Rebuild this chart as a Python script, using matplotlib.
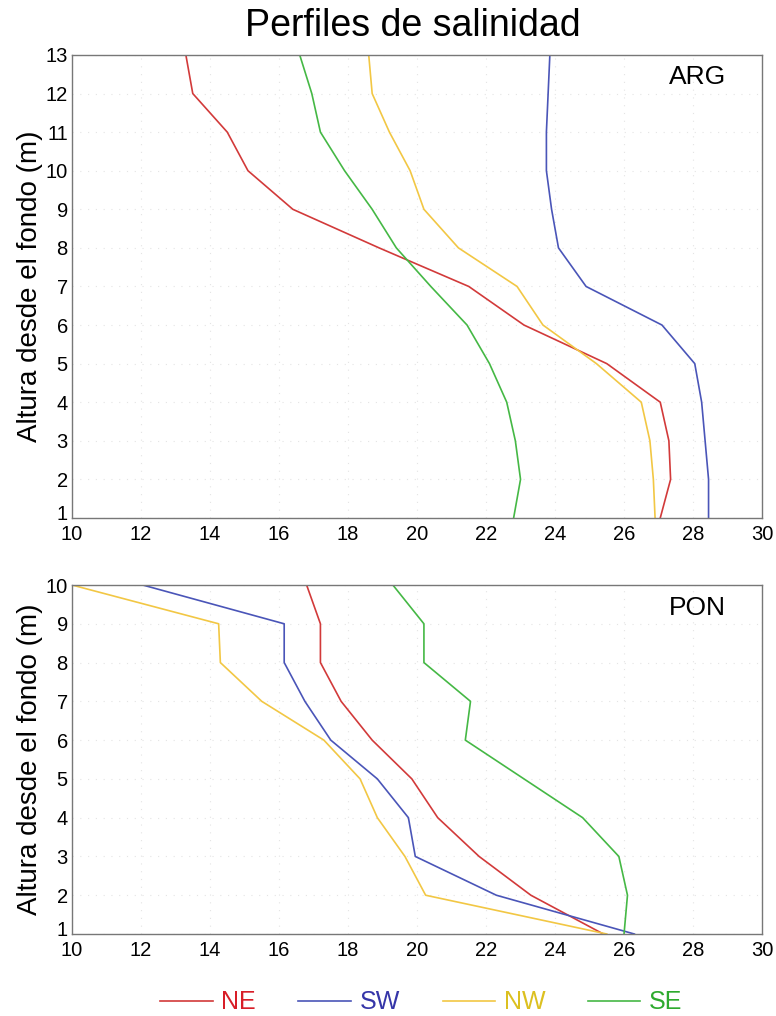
import numpy as np
import matplotlib
matplotlib.use("Agg")
import matplotlib.pyplot as plt
import matplotlib.transforms as mtransforms

plt.rcParams['font.family'] = ['Liberation Sans', 'DejaVu Sans']

# Heights above the bottom (m)
alt_arg = [1, 2, 3, 4, 5, 6, 7, 8, 9, 10, 11, 12, 13]
alt_pon = [1, 2, 3, 4, 5, 6, 7, 8, 9, 10]

# ARG salinity profiles
arg_ne = [27.05, 27.35, 27.3, 27.05, 25.5, 23.1, 21.5, 18.9, 16.4, 15.1, 14.5, 13.5, 13.3]
arg_sw = [28.45, 28.45, 28.35, 28.25, 28.05, 27.1, 24.9, 24.1, 23.9, 23.75, 23.75, 23.8, 23.85]
arg_nw = [26.9, 26.85, 26.75, 26.5, 25.2, 23.65, 22.9, 21.2, 20.2, 19.8, 19.2, 18.7, 18.6]
arg_se = [22.8, 23.0, 22.85, 22.6, 22.1, 21.45, 20.4, 19.4, 18.7, 17.9, 17.2, 16.95, 16.6]

# PON salinity profiles
pon_ne = [25.4, 23.3, 21.8, 20.6, 19.85, 18.7, 17.8, 17.2, 17.2, 16.8]
pon_sw = [26.3, 22.3, 19.95, 19.75, 18.85, 17.5, 16.75, 16.15, 16.15, 12.05]
pon_nw = [25.5, 20.25, 19.65, 18.85, 18.35, 17.3, 15.5, 14.3, 14.25, 10.0]
pon_se = [26.0, 26.1, 25.85, 24.8, 23.1, 21.4, 21.55, 20.2, 20.2, 19.3]

labels = ["NE", "SW", "NW", "SE"]
line_colors = ["#d23a3a", "#4a55b8", "#f2c744", "#45b845"]
text_colors = ["#d81e28", "#3535a8", "#dcc020", "#2eaa2e"]

fig = plt.figure(figsize=(7.76, 10.16), dpi=100)
ax1 = fig.add_axes([0.0928, 0.4902, 0.8892, 0.4557])
ax2 = fig.add_axes([0.0928, 0.0807, 0.8892, 0.3435])


def style_axis(ax, ymax, tag, tag_y):
    ax.set_xlim(10, 30)
    ax.set_ylim(1, ymax)
    ax.set_xticks(np.arange(10, 31, 2))
    ax.set_yticks(np.arange(1, ymax + 1, 1))
    ax.tick_params(length=0, labelsize=14.5)
    ax.tick_params(axis="x", pad=5)
    ax.tick_params(axis="y", pad=3)
    ax.grid(True, color="#e4e4e4", linestyle=(0, (1, 6)), linewidth=0.8)
    for s in ax.spines.values():
        s.set_color("#777777")
        s.set_linewidth(1.0)
    ax.set_ylabel("Altura desde el fondo (m)", fontsize=20, labelpad=2)
    ax.text(0.948, tag_y, tag, transform=ax.transAxes, ha="right", va="center",
            fontsize=19)
    # lift the bottom "1" a little so it sits above the "10" like the original
    lab = ax.get_yticklabels()[0]
    lab.set_transform(lab.get_transform() +
                      mtransforms.ScaledTranslation(0, 4 / 72, fig.dpi_scale_trans))


for vals, c, lab in zip([arg_ne, arg_sw, arg_nw, arg_se], line_colors, labels):
    ax1.plot(vals, alt_arg, color=c, linewidth=1.2, label=lab)
style_axis(ax1, 13, "ARG", 0.952)

for vals, c in zip([pon_ne, pon_sw, pon_nw, pon_se], line_colors):
    ax2.plot(vals, alt_pon, color=c, linewidth=1.2)
style_axis(ax2, 10, "PON", 0.934)

fig.text(0.532, 0.974, "Perfiles de salinidad", ha="center", va="center", fontsize=27)

handles, _ = ax1.get_legend_handles_labels()
leg = fig.legend(handles, labels, loc="center", bbox_to_anchor=(0.543, 0.0135),
                 ncol=4, frameon=False, fontsize=18, handlelength=2.1,
                 handletextpad=0.35, columnspacing=1.7, borderpad=0.1)
for t, c in zip(leg.get_texts(), text_colors):
    t.set_color(c)

fig.savefig("out.png", dpi=100)
